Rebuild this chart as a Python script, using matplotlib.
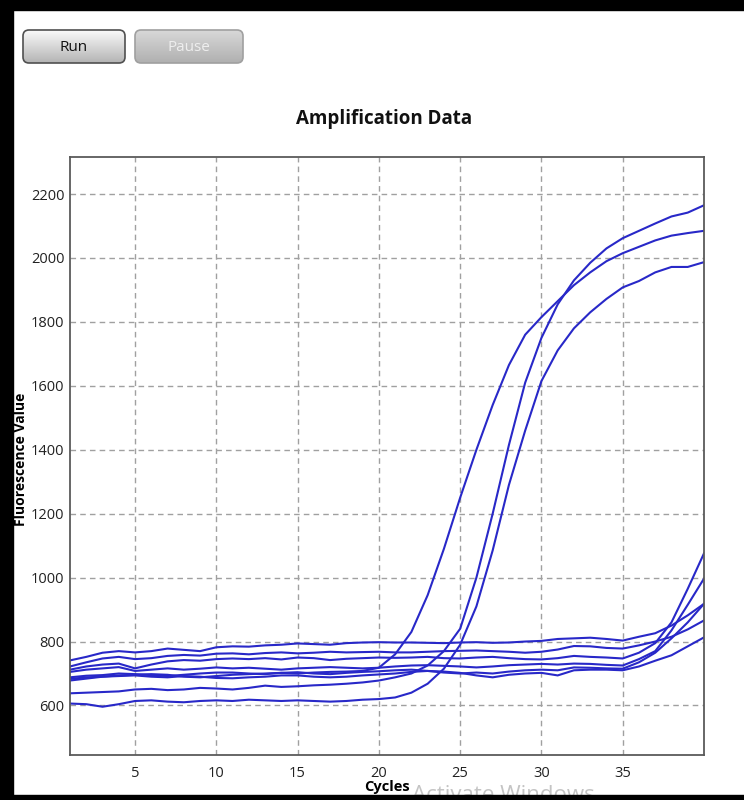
import numpy as np
import matplotlib
matplotlib.use("Agg")
import matplotlib.pyplot as plt
from matplotlib.patches import FancyBboxPatch, Rectangle

plt.rcParams['font.family'] = ['Open Sans', 'DejaVu Sans']

# cycle numbers 1..40
cycles = list(range(1, 41))

# three amplifying samples
amp1 = [678, 684, 690, 694, 696, 698, 696, 690, 688, 692, 696, 698, 700, 702, 700, 703, 705, 706, 708, 718,
        760, 830, 945, 1090, 1250, 1400, 1540, 1665, 1760, 1815, 1865, 1915, 1955, 1990, 2015, 2035, 2055, 2070, 2078, 2085]
amp2 = [638, 640, 642, 644, 650, 652, 648, 650, 655, 653, 650, 655, 662, 658, 660, 663, 665, 668, 672, 678,
        688, 700, 725, 770, 840, 1000, 1200, 1415, 1610, 1750, 1855, 1930, 1985, 2030, 2062, 2085, 2108, 2130, 2142, 2165]
amp3 = [606, 604, 596, 604, 614, 616, 612, 610, 614, 616, 614, 618, 616, 614, 616, 614, 612, 614, 618, 620,
        625, 640, 668, 715, 790, 910, 1085, 1290, 1460, 1615, 1711, 1780, 1830, 1872, 1908, 1928, 1955, 1972, 1972, 1987]

# flat / late rising samples
flat1 = [741, 752, 765, 770, 766, 770, 778, 774, 770, 782, 785, 784, 788, 790, 794, 792, 790, 795, 797, 798,
         797, 797, 796, 795, 797, 798, 796, 797, 800, 802, 808, 810, 812, 808, 803, 815, 826, 850, 882, 918]
flat2 = [722, 735, 747, 752, 745, 748, 755, 758, 756, 762, 763, 760, 764, 766, 763, 765, 768, 766, 767, 768,
         766, 766, 768, 770, 771, 772, 770, 768, 765, 768, 775, 786, 785, 780, 778, 788, 800, 815, 838, 866]
flat3 = [712, 722, 728, 731, 716, 728, 738, 742, 740, 745, 747, 745, 748, 744, 750, 748, 742, 746, 748, 750,
         749, 750, 752, 748, 747, 750, 752, 748, 745, 744, 748, 755, 752, 750, 747, 765, 795, 860, 965, 1076]
flat4 = [705, 712, 716, 720, 708, 712, 716, 712, 715, 719, 716, 718, 715, 712, 716, 718, 720, 718, 716, 718,
         722, 725, 726, 724, 722, 719, 722, 726, 728, 730, 728, 731, 730, 727, 725, 745, 770, 835, 915, 997]
flat5 = [688, 693, 695, 700, 698, 695, 692, 696, 700, 703, 703, 700, 698, 702, 704, 700, 698, 702, 705, 707,
         710, 712, 708, 703, 700, 703, 700, 706, 710, 712, 710, 719, 718, 716, 715, 735, 765, 810, 860, 918]
flat6 = [683, 688, 690, 692, 694, 690, 688, 692, 690, 686, 685, 688, 690, 694, 694, 690, 688, 690, 694, 697,
         700, 705, 708, 706, 702, 694, 688, 696, 700, 702, 694, 710, 712, 712, 710, 722, 740, 757, 785, 813]

samples = [flat1, flat2, flat3, flat4, flat5, flat6, amp1, amp2, amp3]

x_ticks = [5, 10, 15, 20, 25, 30, 35]
y_ticks = [600, 800, 1000, 1200, 1400, 1600, 1800, 2000, 2200]

W, H = 744, 800
fig = plt.figure(figsize=(W / 100, H / 100), dpi=100)
fig.patch.set_facecolor('white')

# decoration layer in pixel coordinates
deco = fig.add_axes([0, 0, 1, 1])
deco.set_xlim(0, W)
deco.set_ylim(H, 0)
deco.axis('off')

grad = np.linspace(0, 1, 64).reshape(-1, 1)

def button(x0, x1, y0, y1, top, bottom, edge, label, tcolor):
    box = FancyBboxPatch((x0, y0), x1 - x0, y1 - y0, boxstyle="round,pad=0,rounding_size=6",
                         facecolor='none', edgecolor=edge, linewidth=1.2, zorder=3)
    deco.add_patch(box)
    cmap = matplotlib.colors.LinearSegmentedColormap.from_list('b', [top, bottom])
    im = deco.imshow(grad, cmap=cmap, extent=(x0, x1, y1, y0), aspect='auto', zorder=2)
    im.set_clip_path(box)
    deco.text((x0 + x1) / 2, (y0 + y1) / 2 + 1, label, ha='center', va='center',
              fontsize=11, color=tcolor, zorder=4)

button(23, 125, 30, 63, '#fafafa', '#b4b4b4', '#505050', 'Run', '#111111')
button(135, 243, 30, 63, '#d8d8d8', '#b0b0b0', '#a0a0a0', 'Pause', '#eeeeee')
deco.set_xlim(0, W)
deco.set_ylim(H, 0)

deco.text(384, 119, 'Amplification Data', ha='center', va='center',
          fontsize=13.5, fontweight='bold', color='#111111')

# watermark, cut by the bottom frame
deco.text(412, 801, 'Activate Windows', ha='left', va='baseline',
          fontsize=16, color='#c4c4c4', zorder=1)

# black frame
deco.add_patch(Rectangle((0, 0), W, 10, color='black', zorder=10))
deco.add_patch(Rectangle((0, 0), 13, H, color='black', zorder=10))
deco.add_patch(Rectangle((0, 795), W, 5, color='black', zorder=10))

# main chart
ax = fig.add_axes([70 / W, 1 - 755 / H, 634 / W, 598 / H])
for s in samples:
    ax.plot(cycles, s, color='#2828c8', linewidth=1.5, solid_joinstyle='round')

ax.set_xlim(1, 40)
ax.set_ylim(445, 2316)
ax.set_xticks(x_ticks)
ax.set_yticks(y_ticks)
ax.grid(True, color='#a0a0a0', linestyle=(0, (4, 3)), linewidth=1.0)
ax.set_axisbelow(True)
ax.tick_params(length=0, labelsize=10.5, colors='#222222')
ax.tick_params(axis='x', pad=8)
ax.tick_params(axis='y', pad=4)
for sp in ax.spines.values():
    sp.set_color('#5a5a5a')
    sp.set_linewidth(1.3)

ax.set_xlabel('Cycles', fontsize=10.5, fontweight='bold', labelpad=-1)
ax.set_ylabel('Fluorescence Value', fontsize=10, fontweight='bold')
ax.yaxis.set_label_coords(-0.066, 0.495)

fig.savefig('out.png', dpi=100, facecolor='white')
